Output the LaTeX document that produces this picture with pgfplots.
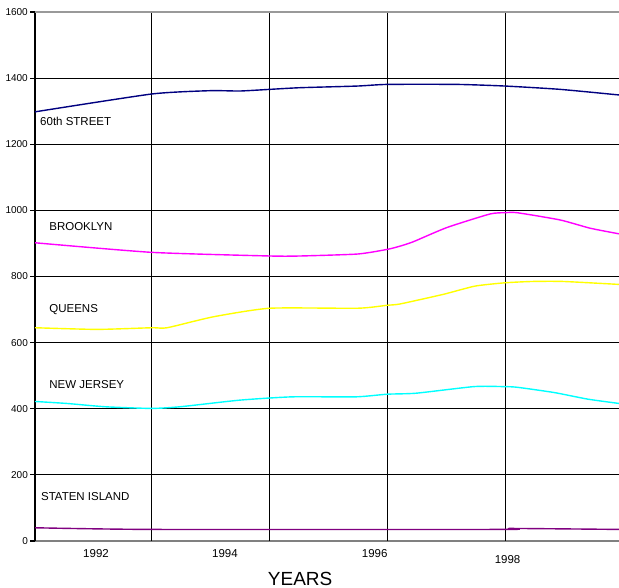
\documentclass[border=0pt]{standalone}
\usepackage{fontspec}
\setmainfont{Liberation Sans}
\usepackage{pgfplots}
\pgfplotsset{compat=1.18}
\definecolor{navyline}{RGB}{0,0,128}
\definecolor{purpleline}{RGB}{128,0,128}
\definecolor{magline}{RGB}{255,0,255}
\definecolor{yelline}{RGB}{255,255,0}
\definecolor{cyanline}{RGB}{0,255,255}
\begin{document}
\begin{tikzpicture}[x=1pt,y=1pt]
\begin{axis}[
  at={(0,0)}, anchor=south west,
  scale only axis, width=584pt, height=529pt,
  xmin=1991, xmax=2000.898, ymin=0, ymax=1600,
  axis x line*=bottom, axis y line*=left,
  x axis line style={draw=gray, line width=1.8pt, -},
  y axis line style={draw=black, line width=1.8pt, -},
  /pgf/number format/assume math mode=true,
  /pgf/number format/1000 sep={},
  ytick={0,200,...,1400},
  extra y ticks={1600},
  extra y tick style={major grid style={draw=gray!80, line width=1.2pt}},
  ymajorgrids=true,
  major grid style={draw=black, line width=1pt},
  tick align=outside,
  major tick length=5pt,
  ytick style={draw=black, line width=1.2pt},
  yticklabel style={font=\fontsize{10}{11}\selectfont, inner sep=1pt, xshift=-1pt},
  xtick={1992.034,1994.22,1996.758,1999.01},
  xticklabels={1992,1994,1996,\rule{0pt}{14pt}1998},
  xtick style={draw=none},
  xticklabel style={font=\fontsize{11.5}{12}\selectfont, anchor=north, inner sep=0pt, yshift=-3pt},
  extra x ticks={1992.97,1994.98,1996.97,1998.97},
  extra x tick labels={},
  extra x tick style={grid=major, major grid style={draw=black, line width=1pt}, tick style={draw=none}},
  xlabel={YEARS},
  xlabel style={font=\fontsize{19}{20}\selectfont, at={(axis description cs:0.454,0)}, anchor=base, yshift=-44.5pt},
  every axis plot/.append style={line width=1.4pt, smooth, tension=0.35, mark=none},
  clip=false,
]
% 60th Street
\addplot[navyline] coordinates {
(1991.00,1298) (1992.98,1352) (1993.97,1362) (1994.47,1361) (1994.98,1366)
(1995.49,1371) (1996.46,1376) (1996.97,1381) (1998.15,1381) (1998.97,1376)
(1999.90,1366) (2000.90,1349)};
% Brooklyn
\addplot[magline] coordinates {
(1991.00,902) (1992.98,873) (1994.98,862) (1995.49,862) (1996.47,868)
(1996.97,882) (1997.19,892) (1997.41,905) (1997.98,948) (1998.71,989)
(1998.97,993) (1999.17,993) (1999.90,971) (2000.41,946) (2000.90,929)};
% Queens
\addplot[yelline] coordinates {
(1991.00,645) (1992.05,640) (1992.98,645) (1993.24,645) (1994.02,678)
(1994.98,704) (1996.47,704) (1996.97,713) (1997.19,717) (1997.92,746)
(1998.46,771) (1998.97,781) (1999.44,785) (1999.95,785) (2000.90,776)};
% New Jersey
\addplot[cyanline] coordinates {
(1991.00,422) (1991.54,416) (1992.19,406) (1992.97,401) (1993.46,406)
(1994.47,426) (1995.36,436) (1996.44,436) (1996.97,444) (1997.46,447)
(1998.44,467) (1998.93,467) (1999.17,465) (1999.80,449) (2000.37,429)
(2000.90,416)};
% Staten Island
\addplot[purpleline] coordinates {
(1991.00,40) (1992.97,35) (1998.97,35) (1999.05,38) (2000.90,35)};
\begin{scope}[every node/.style={anchor=west, font=\fontsize{11.5}{12}\selectfont, inner sep=0pt}]
\node at (axis cs:1991.085,1270) {60th STREET};
\node at (axis cs:1991.24,950) {BROOKLYN};
\node at (axis cs:1991.24,699) {QUEENS};
\node at (axis cs:1991.24,472) {NEW JERSEY};
\node at (axis cs:1991.1,133) {STATEN ISLAND};
\end{scope}
\end{axis}
\pgfresetboundingbox
\path[use as bounding box] (-35,-47) rectangle (584,541);
\end{tikzpicture}
\end{document}
